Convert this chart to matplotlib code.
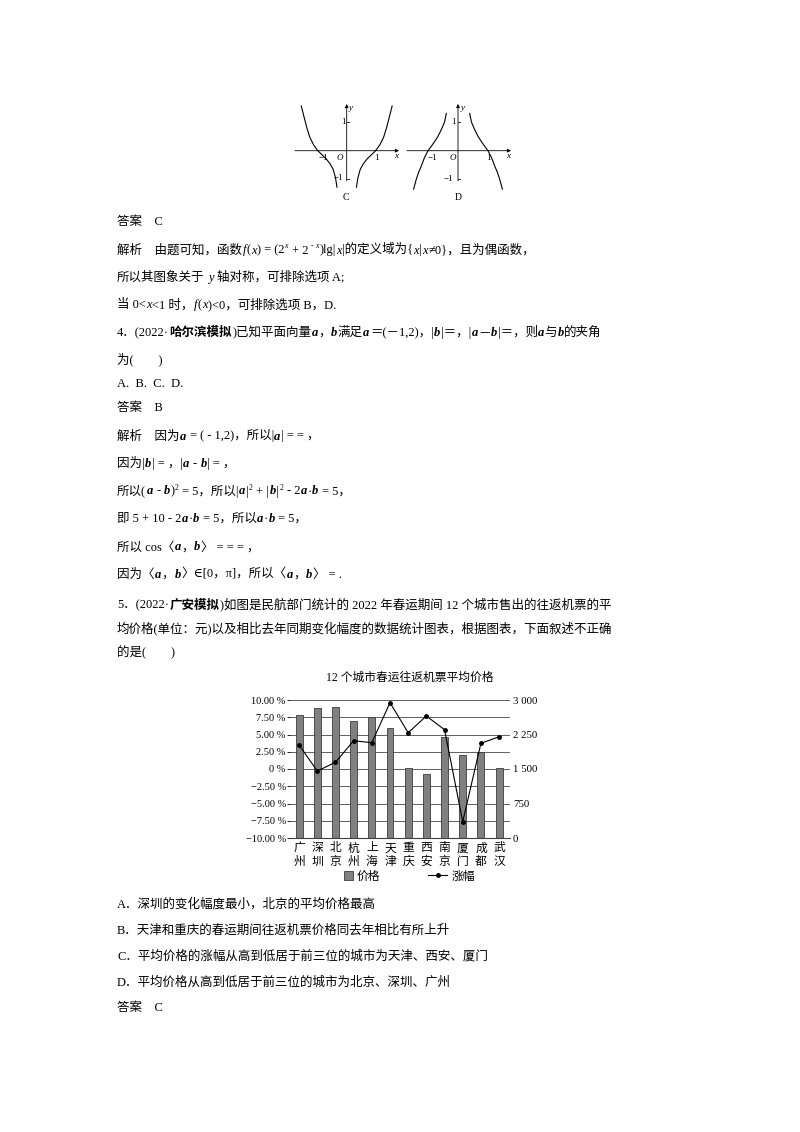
import matplotlib
matplotlib.use('Agg')
import matplotlib.pyplot as plt
from matplotlib.patches import Patch
from matplotlib.lines import Line2D
import numpy as np

W, H = 800, 1132
FAM = ['Liberation Serif', 'DejaVu Serif', 'Noto Sans CJK SC']
CJK = ['Noto Sans CJK SC', 'DejaVu Sans']

# bar chart data
cities = ['广州', '深圳', '北京', '杭州', '上海', '天津', '重庆', '西安', '南京', '厦门', '成都', '武汉']
price = [2674, 2820, 2837, 2543, 2624, 2385, 1528, 1391, 2189, 1797, 1870, 1515]
change = [3.48, -0.29, 0.97, 4.10, 3.81, 9.61, 5.26, 7.68, 5.70, -7.64, 3.72, 4.68]
pct_ticks = [-10, -7.5, -5, -2.5, 0, 2.5, 5, 7.5, 10]
pct_labels = ['−10.00 %', '−7.50 %', '−5.00 %', '−2.50 %', '0 %',
              '2.50 %', '5.00 %', '7.50 %', '10.00 %']
price_ticks = [0, 750, 1500, 2250, 3000]
price_labels = ['0', '750', '1 500', '2 250', '3 000']

# right branches of the two sketched curves (left branch is the mirror)
c_x = [0.33, 0.38, 0.46, 0.57, 0.70, 0.85, 0.98, 1.12, 1.25, 1.35, 1.45, 1.54]
c_y = [-1.28, -0.95, -0.65, -0.45, -0.28, -0.13, 0.0, 0.20, 0.47, 0.80, 1.20, 1.57]
d_x = [0.39, 0.45, 0.56, 0.67, 0.78, 0.90, 1.0, 1.12, 1.22, 1.31, 1.39, 1.48]
d_y = [1.31, 1.0, 0.73, 0.50, 0.32, 0.14, 0.0, -0.25, -0.53, -0.75, -1.0, -1.35]

# page text: * italic, # bold, @ bold italic, ^ superscript
lines = [
    (221, '答案　C'),
    (249, '解析　由题可知，函数*f*(*x*) = (2^*x*^ + 2^ - *x*^)lg|*x*|的定义域为{*x*|*x*≠0}，且为偶函数，'),
    (276, '所以其图象关于 *y* 轴对称，可排除选项 A;'),
    (304, '当 0<*x*<1 时，*f*(*x*)<0，可排除选项 B，D.'),
    (331.5, '4．(2022·#哈尔滨模拟#)已知平面向量@a@，@b@满足@a@＝(－1,2)，|@b@|＝，|@a@－@b@|＝，则@a@与@b@的夹角'),
    (359, '为(　　)'),
    (382.5, 'A.  B.  C.  D.'),
    (407, '答案　B'),
    (435, '解析　因为@a@ = ( - 1,2)，所以|@a@| = = ，'),
    (462.5, '因为|@b@| = ，|@a@ - @b@| = ，'),
    (490, '所以(@a@ - @b@)^2^ = 5，所以|@a@|^2^ + |@b@|^2^ - 2@a@·@b@ = 5，'),
    (517.5, '即 5 + 10 - 2@a@·@b@ = 5，所以@a@·@b@ = 5，'),
    (546, '所以 cos〈@a@，@b@〉 = = = ，'),
    (573, '因为〈@a@，@b@〉∈[0，π]，所以〈@a@，@b@〉 = .'),
    (604, '5．(2022·#广安模拟#)如图是民航部门统计的 2022 年春运期间 12 个城市售出的往返机票的平'),
    (628, '均价格(单位：元)以及相比去年同期变化幅度的数据统计图表，根据图表，下面叙述不正确'),
    (652, '的是(　　)'),
    (903, 'A．深圳的变化幅度最小，北京的平均价格最高'),
    (929, 'B．天津和重庆的春运期间往返机票价格同去年相比有所上升'),
    (955, 'C．平均价格的涨幅从高到低居于前三位的城市为天津、西安、厦门'),
    (981, 'D．平均价格从高到低居于前三位的城市为北京、深圳、广州'),
    (1006.5, '答案　C'),
]

fig = plt.figure(figsize=(8, 11.32), dpi=100)
fig.patch.set_facecolor('white')
renderer = fig.canvas.get_renderer()


def seg(x, y, text, fl, size):
    sup = fl['^']
    fs = size * (0.62 if sup else 1.0)
    sp = 0.25 * fs * 100 / 72
    lead = len(text) - len(text.lstrip(' '))
    trail = len(text) - len(text.rstrip(' '))
    core = text.strip(' ')
    x += lead * sp
    if core:
        t = fig.text(x / W, 1 - (y - (5 if sup else 0)) / H, core, fontsize=fs, family=FAM,
                     style='italic' if (fl['*'] or fl['@']) else 'normal',
                     weight='bold' if (fl['#'] or fl['@']) else 'normal', va='baseline')
        x += t.get_window_extent(renderer).width + 0.4
    return x + trail * sp


def put(x, y, s, size=9.0):
    fl = {'*': False, '#': False, '@': False, '^': False}
    buf = ''
    for ch in s + '\0':
        if ch in fl or ch == '\0':
            if buf:
                x = seg(x, y, buf, fl, size)
            buf = ''
            if ch in fl:
                fl[ch] = not fl[ch]
        else:
            buf += ch
    return x


for yy, s in lines:
    put(117, yy + 4.5, s)


def label(x, y, s, size=6.5, italic=False):
    fig.text(x / W, 1 - y / H, s, fontsize=size, family=FAM, ha='center', va='center',
             style='italic' if italic else 'normal')


def fgraph(ox, oy, ux, uy, box, bx, by):
    l, r, t, b = box
    ax = fig.add_axes([l / W, 1 - b / H, (r - l) / W, (b - t) / H])
    ax.set_xlim((l - ox) / ux, (r - ox) / ux)
    ax.set_ylim((oy - b) / uy, (oy - t) / uy)
    ax.axis('off')
    x0, x1 = ax.get_xlim()
    y0, y1 = ax.get_ylim()
    arrow = dict(arrowstyle='-|>', lw=0.6, color='k', mutation_scale=5, shrinkA=0, shrinkB=0)
    ax.annotate('', xy=(x1, 0), xytext=(x0, 0), arrowprops=arrow)
    ax.annotate('', xy=(0, y1), xytext=(0, -1.06), arrowprops=arrow)
    for v in (1, -1):
        ax.plot([0, 0.08], [v, v], color='k', lw=0.6)
    bx = np.array(bx)
    ax.plot(bx, by, color='k', lw=0.8)
    ax.plot(-bx, by, color='k', lw=0.8)
    return ax


fgraph(346.7, 150.7, 29.5, 28.5, (295, 399, 104, 192), c_x, c_y)
label(350.5, 108, 'y', italic=True)
label(396, 155.5, 'x', italic=True)
label(340, 158, 'O', italic=True)
label(323, 158.5, '−1')
label(376.5, 157.5, '1')
label(343.5, 122, '1')
label(338, 178.5, '−1')
label(346, 198, 'C', size=7)

fgraph(458, 150.7, 30, 28.5, (407, 511, 104, 192), d_x, d_y)
label(463, 108, 'y', italic=True)
label(508, 156, 'x', italic=True)
label(453, 158, 'O', italic=True)
label(432, 158.5, '−1')
label(488.5, 158, '1')
label(453.5, 122, '1')
label(448, 179, '−1')
label(458, 198, 'D', size=7)

# bar chart
x = np.arange(len(cities))
ax = fig.add_axes([290 / W, 1 - 838 / H, 220 / W, 138 / H])
bars = ax.bar(x, price, width=0.38, color='#808080', edgecolor='#3c3c3c', lw=0.6, zorder=2)
ax.set_xlim(-0.5, 11.6)
ax.set_ylim(0, 3000)
ax.set_yticks(np.arange(0, 3001, 375), minor=True)
ax.grid(axis='y', which='both', color='#606060', lw=0.7, zorder=0)
ax.set_axisbelow(True)
for sp in ['left', 'right', 'top']:
    ax.spines[sp].set_visible(False)
ax.spines['bottom'].set_color('#404040')
ax.spines['bottom'].set_linewidth(0.8)
ax.set_xticks(x)
ax.set_xticklabels(['\n'.join(c) for c in cities], family=CJK, fontsize=8.5, linespacing=1.05)
ax.tick_params(axis='x', length=0, pad=2.5)

ax2 = ax.twinx()
ax2.plot(x, change, color='k', lw=0.8, marker='o', ms=2.5, zorder=3)
ax2.set_ylim(-10, 10)
ax2.yaxis.tick_left()
ax2.yaxis.set_label_position('left')
ax2.set_yticks(pct_ticks)
ax2.set_yticklabels(pct_labels, family=FAM, fontsize=7.5)
ax2.tick_params(axis='y', length=2, width=0.6, pad=1)
for sp in ax2.spines.values():
    sp.set_visible(False)

# twinx moved the price ticks to the left; put them back on the right
ax.yaxis.tick_right()
ax.set_yticks(price_ticks)
ax.set_yticklabels(price_labels, family=FAM, fontsize=7.8)
ax.tick_params(axis='y', which='both', length=0, pad=2)

fig.text(410 / W, 1 - 678 / H, '12 个城市春运往返机票平均价格', family=FAM, fontsize=8.5,
         ha='center', va='center')

leg1 = fig.legend([Patch(facecolor='#808080', edgecolor='#3c3c3c', lw=0.6)], ['价格'],
                  loc='center', bbox_to_anchor=(362 / W, 1 - 876 / H), frameon=False,
                  handlelength=0.8, handleheight=0.8, handletextpad=0.3,
                  prop={'family': CJK, 'size': 8.5})
leg2 = fig.legend([Line2D([], [], color='k', lw=0.8, marker='o', ms=2.5)], ['涨幅'],
                  loc='center', bbox_to_anchor=(452 / W, 1 - 876 / H), frameon=False,
                  handlelength=1.6, handletextpad=0.4, prop={'family': CJK, 'size': 8.5})

fig.savefig('out.png', dpi=100)
